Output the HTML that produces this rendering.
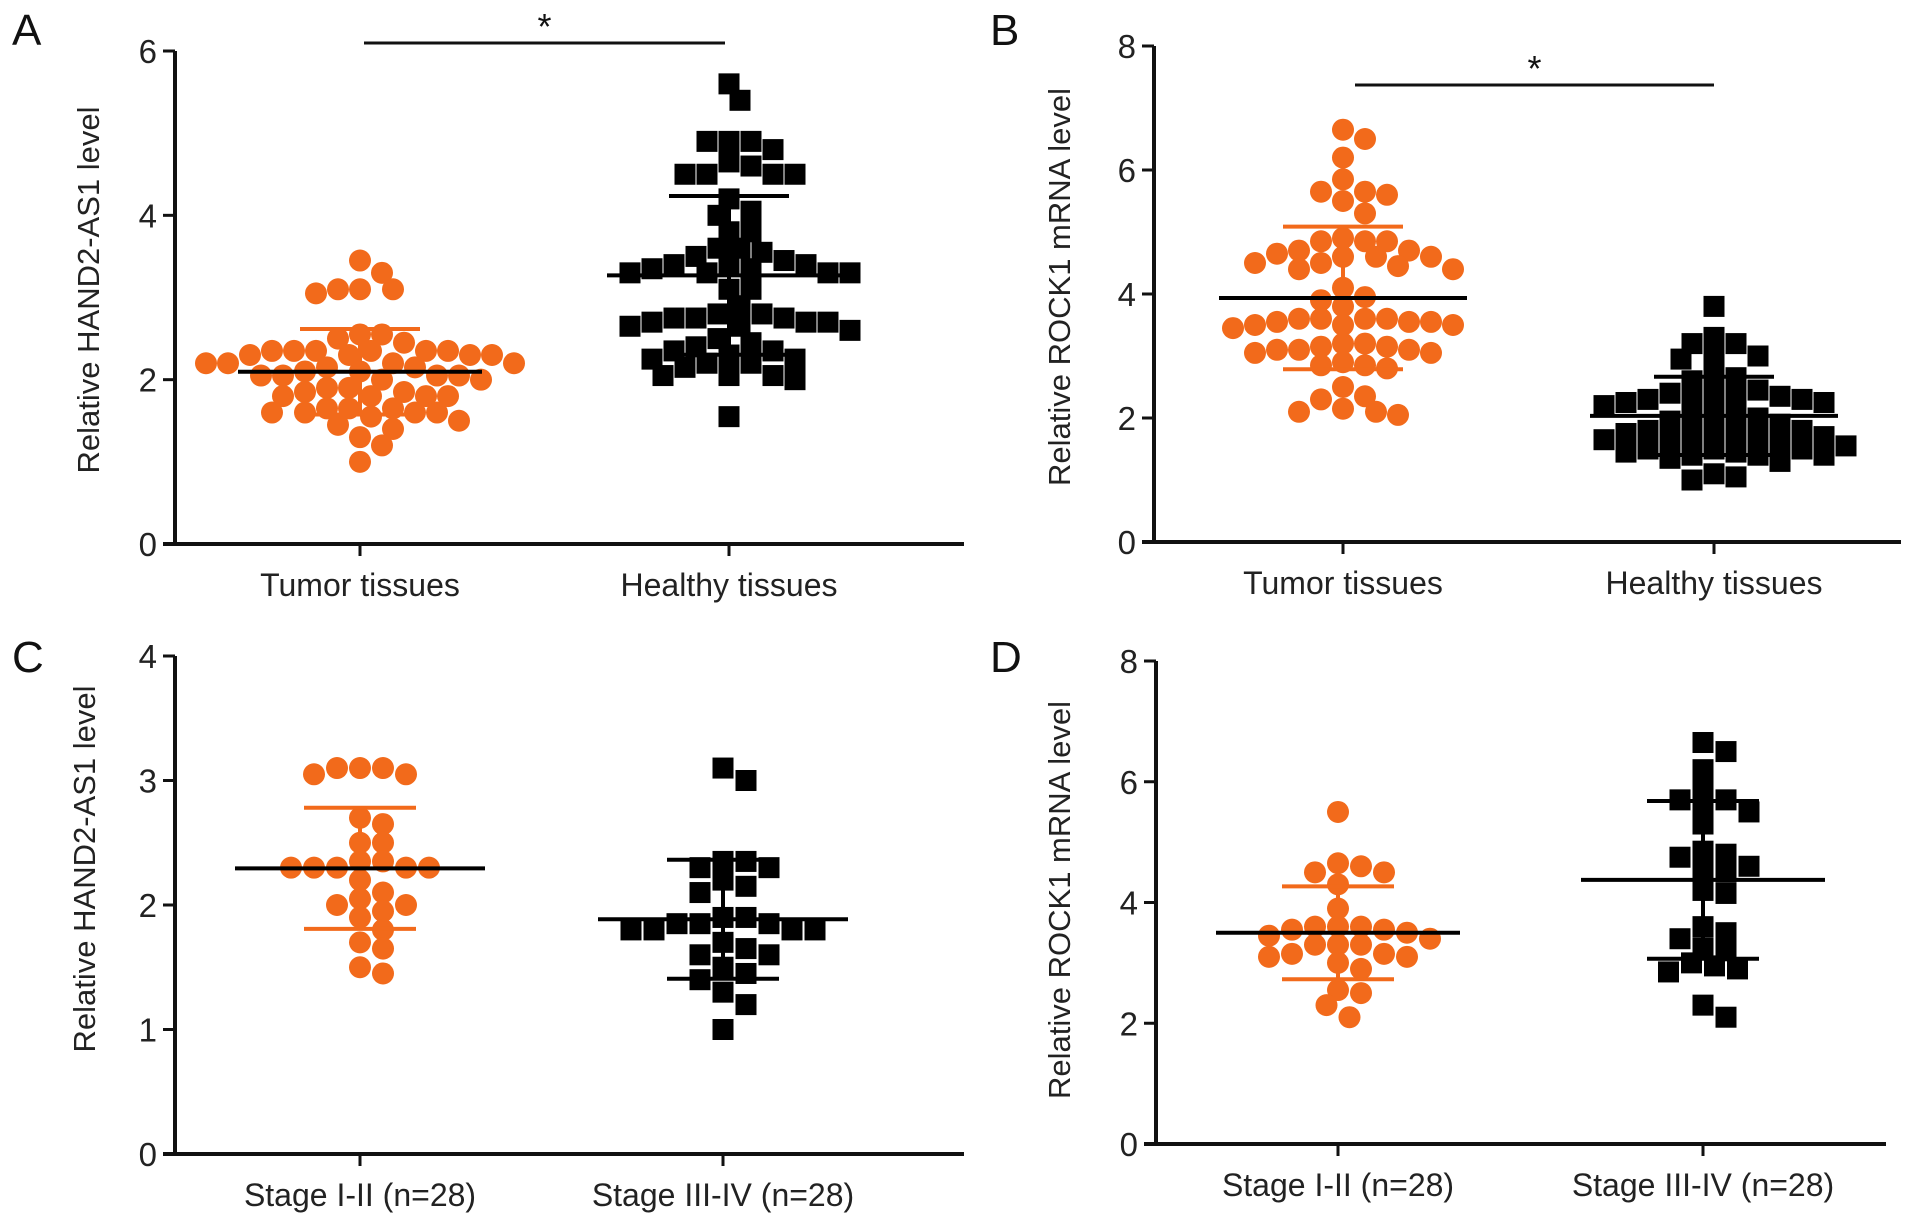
<!DOCTYPE html>
<html><head><meta charset="utf-8"><style>
html,body{margin:0;padding:0;background:#fff;}
svg{display:block;font-family:"Liberation Sans",sans-serif;}
</style></head><body>
<svg id="fig" width="1913" height="1222" viewBox="0 0 1913 1222" xmlns="http://www.w3.org/2000/svg"></svg>
<script>
// ---- data ----
const catsAB = ["Tumor tissues","Healthy tissues"];
const catsCD = ["Stage I-II (n=28)","Stage III-IV (n=28)"];
const ticksA = [0,2,4,6];
const ticksB = [0,2,4,6,8];
const ticksC = [0,1,2,3,4];
const ticksD = [0,2,4,6,8];
const aTumor = [3.45,3.3,3.1,3.1,3.05,3.1,2.55,2.55,2.5,2.45,2.35,2.35,2.35,2.35,2.3,2.3,2.3,2.3,2.35,2.35,2.2,2.2,2.15,2.15,2.2,2.2,2.05,2.05,2.05,2.1,2.1,2.05,2.0,2.0,1.9,1.9,1.85,1.85,1.8,1.8,1.8,1.8,1.65,1.6,1.6,1.6,1.65,1.65,1.55,1.6,1.5,1.45,1.4,1.3,1.2,1.0];
const aHealthy = [5.6,5.4,4.9,4.9,4.9,4.8,4.6,4.65,4.5,4.5,4.5,4.5,4.2,4.0,4.05,3.8,3.8,3.6,3.6,3.55,3.5,3.45,3.4,3.4,3.35,3.3,3.3,3.3,3.3,3.35,3.4,3.1,3.1,2.9,2.8,2.8,2.75,2.75,2.7,2.7,2.65,2.6,2.65,2.7,2.75,2.5,2.45,2.4,2.35,2.3,2.25,2.2,2.15,2.05,2.05,2.0,2.05,2.2,2.25,2.35,1.55];
const bTumor = [6.65,6.5,6.2,5.85,5.65,5.65,5.6,5.5,5.3,4.9,4.85,4.85,4.7,4.65,4.6,4.6,4.5,4.45,4.4,4.4,4.5,4.6,4.7,4.85,4.1,3.95,3.9,3.8,3.6,3.6,3.55,3.55,3.5,3.5,3.45,3.5,3.55,3.6,3.6,3.2,3.15,3.1,3.1,3.05,3.05,3.1,3.15,3.2,2.9,2.85,2.8,2.85,2.5,2.35,2.3,2.1,2.05,2.1,2.15];
const bHealthy = [3.8,3.3,3.2,3.0,3.0,2.95,3.2,2.7,2.65,2.6,2.45,2.4,2.35,2.3,2.3,2.25,2.25,2.2,2.3,2.35,2.4,2.1,2.05,2.0,2.0,1.95,1.9,1.8,1.8,1.75,1.7,1.7,1.65,1.65,1.7,1.75,1.8,1.6,1.55,1.5,1.5,1.45,1.4,1.4,1.35,1.4,1.45,1.5,1.3,1.1,1.0,1.05];
const cEarly = [3.1,3.1,3.05,3.1,3.05,2.7,2.65,2.5,2.5,2.35,2.3,2.3,2.3,2.3,2.3,2.35,2.2,2.1,2.05,2.0,2.0,1.95,1.9,1.8,1.7,1.65,1.5,1.45];
const cLate = [3.1,3.0,2.35,2.35,2.3,2.3,2.1,2.2,2.15,1.9,1.9,1.85,1.85,1.85,1.8,1.8,1.8,1.8,1.7,1.65,1.6,1.6,1.5,1.45,1.4,1.3,1.2,1.0];
const dEarly = [5.5,4.65,4.6,4.5,4.5,4.3,3.9,3.6,3.6,3.6,3.55,3.55,3.5,3.45,3.4,3.3,3.3,3.3,3.15,3.15,3.1,3.1,3.0,2.9,2.55,2.5,2.3,2.1];
const dLate = [6.65,6.5,6.2,5.9,5.7,5.7,5.6,5.5,5.3,4.85,4.8,4.75,4.6,4.55,4.5,4.2,4.15,3.6,3.5,3.4,3.25,3.2,3.0,2.95,2.9,2.85,2.3,2.1];

const NS="http://www.w3.org/2000/svg";
const svg=document.getElementById('fig');
const ORANGE="#f26a1b";
function mk(tag,attrs,parent){const e=document.createElementNS(NS,tag);for(const k in attrs)e.setAttribute(k,attrs[k]);(parent||svg).appendChild(e);return e;}
function stats(v){const m=v.reduce((a,b)=>a+b,0)/v.length;const s=Math.sqrt(v.reduce((a,b)=>a+(b-m)*(b-m),0)/(v.length-1));return [m,s];}

function panel(o){
  const g=mk('g',{});
  
  
  const ymax=o.ticks[o.ticks.length-1];
  const Y=v=>o.y0-(v/ymax)*(o.y0-o.yTop);
  const X=i=>o.cx[i];
  const lt=mk('text',{x:o.lx,y:o.ly,'font-size':44,fill:'#111'},g);lt.textContent=o.letter;
  
  const ya=mk('line',{x1:o.ax,y1:o.yTop,x2:o.ax,y2:o.y0+2,stroke:'#111','stroke-width':4},g);
  
  const xa=mk('line',{x1:o.ax-12,y1:o.y0,x2:o.xEnd,y2:o.y0,stroke:'#111','stroke-width':4},g);
  
  o.ticks.forEach(t=>{
    mk('line',{x1:o.ax-12,y1:Y(t),x2:o.ax,y2:Y(t),stroke:'#111','stroke-width':3},g);
    const tx=mk('text',{x:o.ax-18,y:Y(t)+12,'font-size':33,'text-anchor':'end',fill:'#222'},g);tx.textContent=t;
    
  });
  o.cats.forEach((c,i)=>{
    mk('line',{x1:X(i),y1:o.y0,x2:X(i),y2:o.y0+12,stroke:'#111','stroke-width':3},g);
    const tx=mk('text',{x:X(i),y:o.y0+52,'font-size':32,'text-anchor':'middle',fill:'#222'},g);tx.textContent=c;
    
  });
  const yl=mk('text',{x:0,y:0,'font-size':31,'text-anchor':'middle',fill:'#222',transform:`translate(${o.ylx},${o.yly}) rotate(-90)`},g);
  yl.textContent=o.ylabel;
  [o.s1,o.s2].forEach((vals,si)=>{
    const col=si===0?ORANGE:'#000';
    const sorted=vals.slice().sort((a,b)=>b-a);
    const placed=[];
    const D=o.sp;
    sorted.forEach(v=>{
      const y=Y(v);
      let off=0;
      for(let k=0;k<60;k++){
        const cand=(k===0)?0:((k%2?1:-1)*Math.ceil(k/2)*D*0.5);
        const ok=placed.every(p=>{const dx=p[0]-cand,dy=p[1]-y;return dx*dx+dy*dy>=D*D*0.62;});
        if(ok){off=cand;break;}
      }
      placed.push([off,y]);
      const xx=X(si)+off;
      let m;
      if(si===0){m=mk('circle',{cx:xx,cy:y,r:11,fill:col},g);}
      else{m=mk('rect',{x:xx-10.5,y:y-10.5,width:21,height:21,fill:col},g);}
      
    });
    const [mn,sd]=stats(vals);
    const eb=mk('g',{},g);
    mk('line',{x1:X(si),y1:Y(mn+sd),x2:X(si),y2:Y(mn-sd),stroke:col,'stroke-width':4},eb);
    mk('line',{x1:X(si)-o.cap,y1:Y(mn+sd),x2:X(si)+o.cap,y2:Y(mn+sd),stroke:col,'stroke-width':4},eb);
    mk('line',{x1:X(si)-o.cap,y1:Y(mn-sd),x2:X(si)+o.cap,y2:Y(mn-sd),stroke:col,'stroke-width':4},eb);
    const ml=mk('line',{x1:X(si)-o.mw,y1:Y(mn),x2:X(si)+o.mw,y2:Y(mn),stroke:'#000','stroke-width':4},g);
    
  });
  if(o.sig){
    const sb=mk('line',{x1:o.sig[0],y1:o.sig[2],x2:o.sig[1],y2:o.sig[2],stroke:'#111','stroke-width':3},g);
    
    const st=mk('text',{x:(o.sig[0]+o.sig[1])/2,y:o.sig[2]-4,'font-size':36,'text-anchor':'middle',fill:'#111'},g);st.textContent='*';
    
  }
}
panel({name:'panel-a',letter:'A',lx:12,ly:45,ax:175,yTop:51,y0:544,xEnd:964,cx:[360,729],cats:catsAB,ticks:ticksA,s1:aTumor,s2:aHealthy,ylabel:'Relative HAND2-AS1 level',ylx:99,yly:290,sp:22,cap:60,mw:122,pname:['tumor','healthy'],sig:[364,725,43]});
panel({name:'panel-b',letter:'B',lx:990,ly:45,ax:1154,yTop:46,y0:542,xEnd:1901,cx:[1343,1714],cats:catsAB,ticks:ticksB,s1:bTumor,s2:bHealthy,ylabel:'Relative ROCK1 mRNA level',ylx:1070,yly:287,sp:22,cap:60,mw:124,pname:['tumor','healthy'],sig:[1355,1714,85]});
panel({name:'panel-c',letter:'C',lx:12,ly:672,ax:175,yTop:656,y0:1154,xEnd:964,cx:[360,723],cats:catsCD,ticks:ticksC,s1:cEarly,s2:cLate,ylabel:'Relative HAND2-AS1 level',ylx:95,yly:869,sp:23,cap:56,mw:125,pname:['stage-i-ii','stage-iii-iv']});
panel({name:'panel-d',letter:'D',lx:990,ly:672,ax:1156,yTop:661,y0:1144,xEnd:1886,cx:[1338,1703],cats:catsCD,ticks:ticksD,s1:dEarly,s2:dLate,ylabel:'Relative ROCK1 mRNA level',ylx:1070,yly:900,sp:23,cap:56,mw:122,pname:['stage-i-ii','stage-iii-iv']});
</script>
</body></html>
